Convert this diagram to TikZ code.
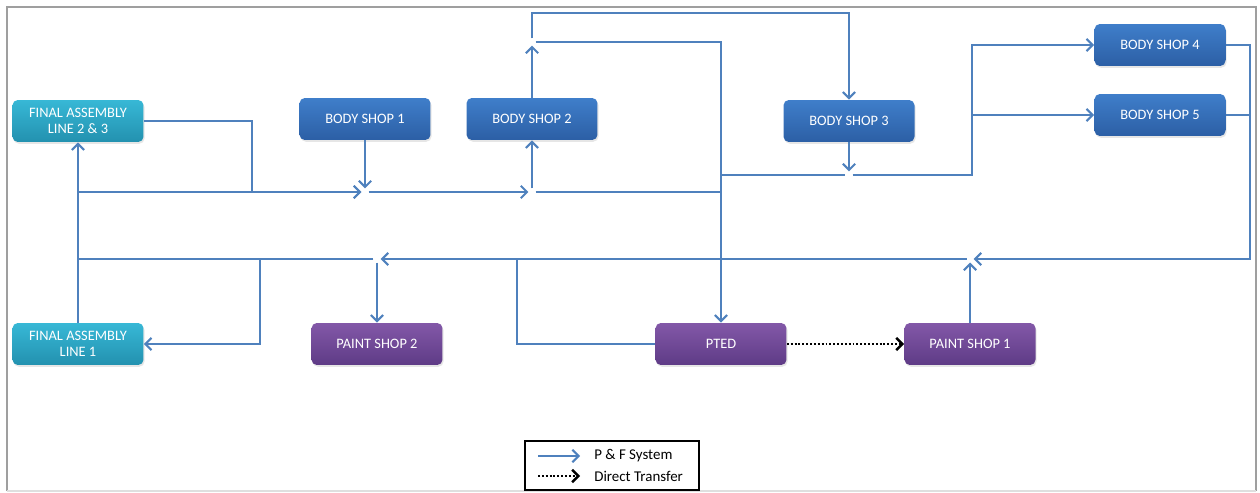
\documentclass[tikz,border=0pt]{standalone}
\usepackage{fontspec}
\setmainfont{Carlito}
\usetikzlibrary{arrows.meta, positioning, shadows}
\usepackage{xcolor}

\definecolor{flowblue}{HTML}{4F81BD}
\definecolor{shoptop}{HTML}{3F7ECA}
\definecolor{shopbot}{HTML}{2C5FA5}
\definecolor{fatop}{HTML}{37B8D6}
\definecolor{fabot}{HTML}{2391AF}
\definecolor{painttop}{HTML}{8358A8}
\definecolor{paintbot}{HTML}{5E3B86}

\begin{document}
\begin{tikzpicture}[
    x=0.02cm, y=-0.02cm,
    unit/.style={rectangle, rounded corners=3pt, minimum width=2.62cm, minimum height=0.84cm,
        align=center, text=white, font=\fontsize{8.2}{9}\selectfont, inner sep=1pt,
        drop shadow={opacity=0.2, shadow xshift=0.6pt, shadow yshift=-1pt}},
    bodyshop/.style={unit, top color=shoptop, bottom color=shopbot},
    assembly/.style={unit, top color=fatop, bottom color=fabot},
    paintshop/.style={unit, top color=painttop, bottom color=paintbot},
    flow/.style={-{Straight Barb[length=3.5pt, width=7pt]}, draw=flowblue, line width=1.2pt},
    link/.style={draw=flowblue, line width=1.2pt},
    direct/.style={-{Straight Barb[length=3.5pt, width=7pt]}, black, line width=1.4pt, dash pattern=on 1.1pt off 1.1pt},
    label/.style={font=\fontsize{8.5}{9.5}\selectfont, anchor=west, inner sep=0pt}
]
    \useasboundingbox (0,0) rectangle (1260,493);

    % Frame
    \draw[gray!75, line width=1.6pt] (7,491) -- (7,7) -- (1256,7) -- (1256,491);
    \draw[gray!25, line width=1pt] (7,491) -- (1256,491);

    % Final assembly lines
    \node[assembly] (fa23) at (78,121) {FINAL ASSEMBLY\\LINE 2 \& 3};
    \node[assembly] (fa1) at (78,344) {FINAL ASSEMBLY\\LINE 1};

    % Body shops
    \node[bodyshop] (bs1) at (365,119) {BODY SHOP 1};
    \node[bodyshop] (bs2) at (532,119) {BODY SHOP 2};
    \node[bodyshop] (bs3) at (849,121) {BODY SHOP 3};
    \node[bodyshop] (bs4) at (1160,45) {BODY SHOP 4};
    \node[bodyshop] (bs5) at (1160,115) {BODY SHOP 5};

    % Paint shops
    \node[paintshop] (ps2) at (377,344) {PAINT SHOP 2};
    \node[paintshop] (pted) at (721,344) {PTED};
    \node[paintshop] (ps1) at (970,344) {PAINT SHOP 1};

    % Junctions of the P & F system
    \coordinate (j1) at (365,192);
    \coordinate (j2) at (532,192);
    \coordinate (j3) at (532,42);
    \coordinate (j4) at (849,175);
    \coordinate (j5) at (970,259);
    \coordinate (j6) at (377,259);
    \coordinate (split) at (972,175);
    \coordinate (ret) at (1250,259);
    \coordinate (tap) at (517,259);
    \coordinate (drop) at (260,259);

    % Upper loop
    \draw[flow] (fa1) -- (fa23);
    \draw[flow, shorten >=2pt] (fa23.east) -- ++(108,0) |- (j1);
    \draw[flow, shorten >=2pt] (fa23.south |- j1) -- (j1);
    \draw[flow, shorten >=2pt] (bs1) -- (j1);
    \draw[flow, shorten <=2pt, shorten >=2pt] (j1) -- (j2);
    \draw[flow, shorten <=2pt] (j2) -- (bs2);
    \draw[flow, shorten >=2pt] (bs2) -- (j3);
    \draw[flow, shorten <=2pt] (j3) -- ++(0,-29) -| (bs3);
    \draw[flow, shorten <=2pt] (j3) -| (pted);
    \draw[link, shorten <=2pt] (j2) -- (j2 -| pted);

    % Body shop 3 to body shops 4 and 5
    \draw[flow, shorten >=2pt] (bs3) -- (j4);
    \draw[link, shorten >=2pt] (j4 -| pted) -- (j4);
    \draw[flow, shorten <=2pt] (j4) -- (split) |- (bs4);
    \draw[flow] (split |- bs5) -- (bs5);

    % Return line
    \draw[flow, shorten >=2pt] (bs4.east) -| (ret) -- (j5);
    \draw[link] (bs5.east) -- (bs5.east -| ret);
    \draw[flow, shorten >=2pt] (ps1) -- (j5);
    \draw[flow, shorten <=2pt, shorten >=2pt] (j5) -- (j6);
    \draw[link] (pted.west) -| (tap);
    \draw[flow, shorten <=2pt] (j6) -- (ps2);
    \draw[link, shorten <=2pt] (j6) -- (fa1.north |- j6);
    \draw[flow] (drop) |- (fa1);

    % Direct transfer
    \draw[direct] (pted) -- (ps1);

    % Legend
    \node[draw=black, line width=1pt, minimum width=3.48cm, minimum height=0.98cm] (legend) at (612,465.5) {};
    \node[label] (lpf) at (594,456) {P \& F System};
    \node[label] (ldt) at (594,476) {Direct Transfer};
    \coordinate (lpf0) at (538,456);
    \coordinate (ldt0) at (538,476);
    \draw[flow] (lpf0) -- ++(42,0);
    \draw[direct] (ldt0) -- ++(42,0);
\end{tikzpicture}
\end{document}
